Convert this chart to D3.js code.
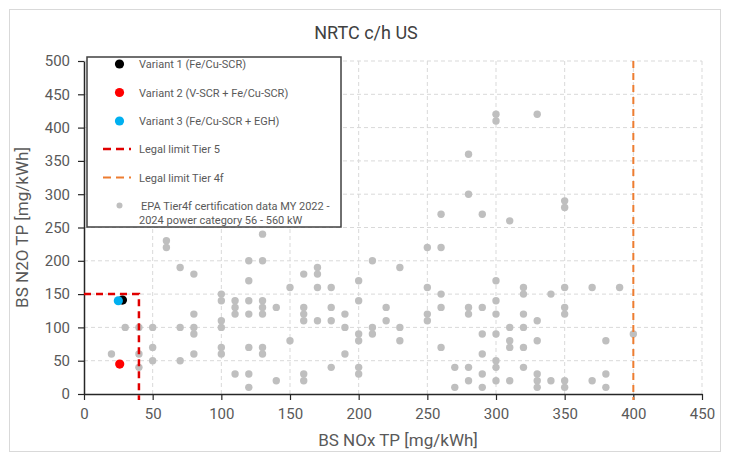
<!DOCTYPE html>
<html><head><meta charset="utf-8">
<script src="https://cdn.jsdelivr.net/npm/d3@7"></script>
<style>
body{margin:0;background:#fff;}
svg{display:block;font-family:"Liberation Sans Narrow","Roboto","Liberation Sans",sans-serif;}
</style></head>
<body><svg id="c" width="729" height="457"></svg>
<script>
const title = "NRTC c/h US";
const xTitle = "BS NOx TP [mg/kWh]";
const yTitle = "BS N2O TP [mg/kWh]";
const xTicks = [0,50,100,150,200,250,300,350,400,450];
const yTicks = [0,50,100,150,200,250,300,350,400,450,500];

// EPA Tier4f certification data (NOx, N2O)
const epaNOx = [60,60,70,80,100,100,110,110,110,120,120,120,120,80,30,40,50,70,80,100,80,100,50,100,100,120,20,40,80,50,70,40,110,120,120,
130,130,130,130,130,140,150,150,160,160,160,160,170,170,170,170,180,180,180,190,190,190,180,200,200,200,200,200,200,210,210,210,220,220,230,230,230,130,130,140,160,160,
250,260,250,260,260,250,250,260,280,280,290,270,280,270,280,290,290,290,290,300,300,300,300,300,300,300,310,310,310,310,320,320,320,320,320,320,330,330,330,330,330,340,340,350,350,350,350,350,
370,390,380,400,380,380,370,
300,300,330,280,280,260,290,310,350,350];
const epaN2O = [230,220,190,180,150,140,140,130,120,140,120,200,170,120,100,100,100,100,100,100,90,110,70,70,60,70,60,60,60,50,50,40,30,30,10,
240,200,140,130,120,130,160,80,180,130,120,110,190,180,160,110,160,130,110,120,100,60,40,170,140,90,80,40,30,200,100,90,130,110,190,100,80,70,60,20,30,20,
220,220,160,150,130,120,110,70,130,120,130,40,40,10,20,90,60,30,10,170,140,120,90,50,40,20,100,80,70,20,160,150,120,100,70,40,110,80,30,20,10,150,20,160,130,120,20,10,
160,160,80,90,30,10,20,
420,410,420,360,300,270,270,260,290,280];

const variantNames = ["Variant 1 (Fe/Cu-SCR)","Variant 2 (V-SCR + Fe/Cu-SCR)","Variant 3 (Fe/Cu-SCR + EGH)"];
const variantNOx = [28,26,25];
const variantN2O = [141,45,140];
const variantColors = ["#000000","#ff0000","#00b0f0"];

const tier5NOx = 40, tier5N2O = 150;
const tier4fNOx = 400;

const svg = d3.select("#c");
const W = 729, H = 457;
const m = {left:84, right:27, top:61, bottom:63};
const x = d3.scaleLinear().domain([0,450]).range([m.left, W-m.right]);
const y = d3.scaleLinear().domain([0,500]).range([H-m.bottom, m.top]);

// outer border
svg.append("rect").attr("x",9.5).attr("y",9.5).attr("width",711).attr("height",442)
  .attr("fill","#fff").attr("stroke","#d9d9d9").attr("stroke-width",1);

svg.append("text").attr("x",366).attr("y",39).attr("text-anchor","middle")
  .attr("font-size",18).attr("fill","#404040").text(title);

// gridlines
const grid = svg.append("g");
grid.selectAll("line.h").data(yTicks.filter(d=>d>0)).join("line")
  .attr("x1",x(0)).attr("x2",x(450)).attr("y1",d=>y(d)).attr("y2",d=>y(d))
  .attr("stroke","#d9d9d9").attr("stroke-dasharray","4,3");
grid.selectAll("line.v").data(xTicks.filter(d=>d>0)).join("line")
  .attr("y1",y(0)).attr("y2",y(500)).attr("x1",d=>x(d)).attr("x2",d=>x(d))
  .attr("stroke","#d9d9d9").attr("stroke-dasharray","4,3");

// axes
const xa = svg.append("g").attr("transform",`translate(0,${y(0)})`)
  .call(d3.axisBottom(x).tickValues(xTicks).tickSize(6).tickSizeOuter(0).tickPadding(8));
const ya = svg.append("g").attr("transform",`translate(${x(0)},0)`)
  .call(d3.axisLeft(y).tickValues(yTicks).tickSize(6).tickSizeOuter(0).tickPadding(8));
[xa,ya].forEach(a=>{
  a.select(".domain").attr("stroke","#262626").attr("stroke-width",1.5);
  a.selectAll(".tick line").attr("stroke","#262626").attr("stroke-width",1.2);
  a.selectAll(".tick text").attr("fill","#595959").attr("font-size",15)
    .attr("font-family","'Liberation Sans Narrow','Roboto',sans-serif");
});

// EPA points
svg.append("g").selectAll("circle").data(epaNOx.map((d,i)=>[d,epaN2O[i]])).join("circle")
  .attr("cx",d=>x(d[0])).attr("cy",d=>y(d[1])).attr("r",3.7).attr("fill","#bfbfbf");

// limit lines
svg.append("path").attr("d",`M${x(0)},${y(tier5N2O)}H${x(tier5NOx)}V${y(0)+6}`)
  .attr("fill","none").attr("stroke","#e00000").attr("stroke-width",2.5).attr("stroke-dasharray","7,5");
svg.append("line").attr("x1",x(tier4fNOx)).attr("x2",x(tier4fNOx)).attr("y1",y(500)).attr("y2",y(0)+6)
  .attr("stroke","#ed7d31").attr("stroke-width",2).attr("stroke-dasharray","7,5");

// variants
svg.append("g").selectAll("circle").data(variantNOx.map((d,i)=>({x:d,y:variantN2O[i],c:variantColors[i]}))).join("circle")
  .attr("cx",d=>x(d.x)).attr("cy",d=>y(d.y)).attr("r",4.6).attr("fill",d=>d.c);

// legend
const lg = svg.append("g");
lg.append("rect").attr("x",87).attr("y",57).attr("width",254).attr("height",170)
  .attr("fill","#fff").attr("stroke","#404040").attr("stroke-width",1.5);
const ly = [64,92.5,121,149,177.5];
const tx = 139;
const lfs = 11;
variantNames.forEach((n,i)=>{
  lg.append("circle").attr("cx",119.5).attr("cy",ly[i]).attr("r",4.6).attr("fill",variantColors[i]);
  lg.append("text").attr("x",tx).attr("y",ly[i]+4).attr("font-size",lfs).attr("fill","#595959").text(n);
});
lg.append("line").attr("x1",103).attr("x2",131).attr("y1",ly[3]).attr("y2",ly[3])
  .attr("stroke","#e00000").attr("stroke-width",2.5).attr("stroke-dasharray","8,5");
lg.append("text").attr("x",tx).attr("y",ly[3]+4).attr("font-size",lfs).attr("fill","#595959").text("Legal limit Tier 5");
lg.append("line").attr("x1",103).attr("x2",131).attr("y1",ly[4]).attr("y2",ly[4])
  .attr("stroke","#ed7d31").attr("stroke-width",2).attr("stroke-dasharray","8,5");
lg.append("text").attr("x",tx).attr("y",ly[4]+4).attr("font-size",lfs).attr("fill","#595959").text("Legal limit Tier 4f");
lg.append("circle").attr("cx",119.5).attr("cy",205.5).attr("r",3).attr("fill","#bfbfbf");
lg.append("text").attr("x",141).attr("y",209.5).attr("font-size",lfs).attr("fill","#595959").text("EPA Tier4f certification data MY 2022 -");
lg.append("text").attr("x",139).attr("y",224).attr("font-size",lfs).attr("fill","#595959").text("2024 power category 56 - 560 kW");

// axis titles
svg.append("text").attr("x",398).attr("y",446).attr("text-anchor","middle")
  .attr("font-size",17).attr("fill","#595959").text(xTitle);
svg.append("text").attr("transform",`translate(28,${(y(0)+y(500))/2}) rotate(-90)`)
  .attr("text-anchor","middle").attr("font-size",17).attr("fill","#595959").text(yTitle);
</script></body></html>
